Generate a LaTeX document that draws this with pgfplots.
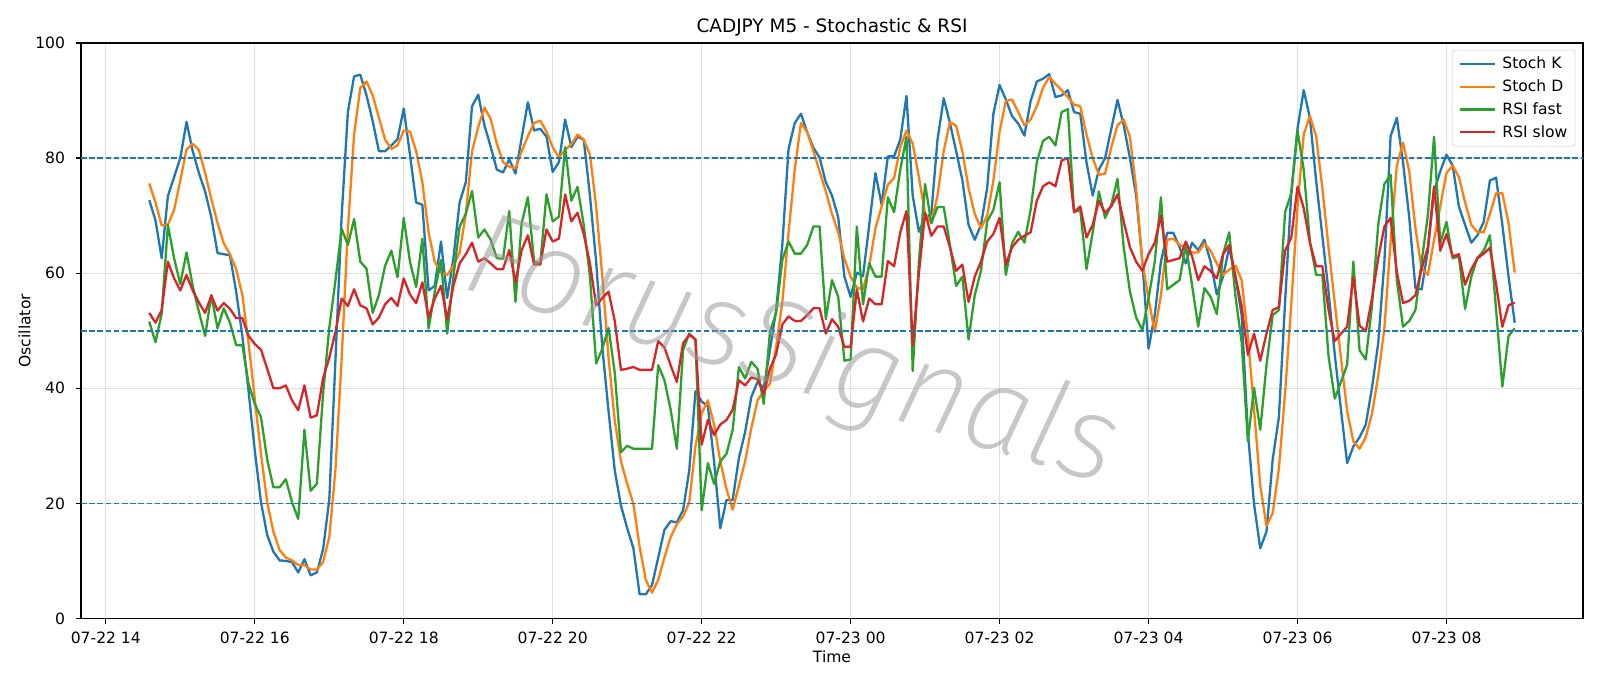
\documentclass[border=0pt]{standalone}
\usepackage{fontspec}
\setmainfont{DejaVu Sans}
\IfFontExistsTF{Fira Sans ExtraLight Italic}{%
  \newfontfamily\wmfont{Fira Sans ExtraLight Italic}\def\wmsize{86}}{%
  \IfFontExistsTF{Fira Sans Light Italic}{%
    \newfontfamily\wmfont{Fira Sans Light Italic}\def\wmsize{86}}{%
    \newfontfamily\wmfont{DejaVu Sans Oblique}\def\wmsize{76}}}
\usepackage{pgfplots}
\usepackage{pgfplotstable}
\pgfplotsset{compat=1.18}
\definecolor{c0}{HTML}{1F77B4}
\definecolor{c1}{HTML}{FF7F0E}
\definecolor{c2}{HTML}{2CA02C}
\definecolor{c3}{HTML}{D62728}
\pgfplotstableread{
i k d f s
0 72.7 75.6 51.6 53.1
1 69.2 72.3 48.0 51.4
2 62.6 68.3 53.0 53.6
3 73.4 68.4 68.4 62.0
4 76.7 71.0 62.6 59.1
5 80.0 76.1 58.1 57.0
6 86.3 81.5 63.6 59.7
7 81.2 82.5 57.8 57.0
8 77.4 81.4 53.3 54.9
9 74.2 77.4 49.1 53.1
10 69.7 72.9 56.2 56.1
11 63.5 68.7 50.4 53.5
12 63.3 65.2 53.9 54.8
13 63.1 63.3 51.4 53.8
14 56.8 60.7 47.5 52.2
15 49.1 56.2 47.5 52.2
16 39.5 47.8 40.8 49.1
17 29.2 38.2 37.3 47.7
18 20.2 28.6 35.0 46.7
19 14.5 20.2 27.6 43.4
20 11.6 15.1 22.8 40.0
21 10.1 11.9 22.8 40.0
22 10.0 10.6 24.2 40.5
23 9.8 10.1 20.2 37.9
24 8.0 9.3 17.3 36.2
25 10.3 9.3 32.8 40.5
26 7.5 8.5 22.2 34.9
27 8.0 8.5 23.4 35.3
28 12.0 9.8 39.0 41.7
29 20.6 14.1 50.5 45.3
30 45.0 25.9 58.8 49.8
31 70.0 45.2 67.7 55.6
32 88.0 67.7 64.9 54.3
33 94.2 84.1 69.4 57.2
34 94.5 92.2 62.0 54.4
35 90.9 93.3 60.8 53.9
36 86.4 90.9 53.1 51.1
37 81.2 87.0 56.2 52.3
38 81.2 83.2 61.3 54.6
39 82.2 81.6 63.9 55.7
40 83.3 82.2 59.3 54.3
41 88.6 84.8 69.6 59.1
42 80.6 84.6 62.0 56.3
43 72.3 81.2 57.6 54.8
44 71.9 75.8 66.0 58.4
45 57.0 67.1 50.4 52.3
46 57.8 62.0 56.8 55.6
47 65.5 60.1 62.3 57.8
48 55.7 59.7 49.5 52.0
49 62.6 61.3 59.4 57.8
50 72.3 63.6 68.1 61.7
51 75.8 70.3 70.3 63.3
52 89.0 81.2 74.3 65.3
53 91.0 85.4 66.2 62.0
54 85.7 88.8 67.6 62.6
55 82.0 86.8 65.8 61.7
56 78.0 82.5 62.6 60.7
57 77.5 79.3 62.5 60.7
58 79.8 78.5 70.8 64.0
59 77.3 78.2 55.0 58.4
60 83.5 81.2 68.7 64.0
61 89.7 83.8 73.2 66.6
62 84.8 86.1 62.0 61.5
63 85.1 86.5 61.7 61.5
64 83.7 84.6 73.7 67.6
65 77.6 81.9 69.0 65.5
66 79.3 80.1 69.8 66.0
67 86.7 81.4 81.9 73.7
68 81.9 82.4 72.6 69.0
69 83.7 84.1 75.0 70.5
70 83.2 83.2 68.4 66.8
71 73.5 80.6 59.4 61.7
72 62.0 71.6 44.3 54.4
73 47.0 59.4 46.9 55.7
74 36.0 45.3 50.5 56.8
75 25.7 34.4 42.7 51.7
76 19.6 27.3 28.9 43.2
77 15.7 23.4 30.0 43.4
78 12.2 19.9 29.5 43.7
79 4.2 12.5 29.5 43.2
80 4.2 6.7 29.5 43.2
81 5.8 4.5 29.5 43.2
82 10.6 6.7 44.0 48.2
83 15.4 10.6 41.4 47.1
84 16.9 14.1 36.3 44.0
85 16.7 16.4 29.5 41.1
86 18.8 17.7 46.6 47.8
87 25.7 20.2 49.5 49.3
88 39.5 29.9 48.5 48.5
89 37.7 35.6 18.8 30.2
90 36.9 37.9 27.0 34.5
91 27.3 33.7 23.4 31.9
92 15.7 27.3 27.3 33.7
93 20.6 22.5 28.6 34.5
94 20.6 18.9 32.8 36.3
95 27.9 23.1 43.7 41.4
96 32.4 27.3 41.7 40.5
97 38.5 33.1 44.6 41.9
98 41.1 37.9 43.4 41.6
99 40.1 39.5 37.3 39.0
100 46.6 40.8 49.8 43.4
101 53.6 47.2 53.1 45.9
102 65.0 55.0 62.3 51.1
103 81.6 67.0 65.5 52.5
104 86.1 78.0 63.4 51.7
105 87.7 86.1 63.4 51.7
106 84.5 84.5 64.9 52.7
107 81.8 81.2 68.1 53.9
108 80.1 77.7 68.1 53.9
109 75.8 74.2 52.0 49.5
110 73.5 70.3 58.8 52.0
111 69.7 67.1 55.9 50.7
112 59.4 62.5 44.8 47.2
113 55.9 59.4 45.0 47.2
114 60.1 57.5 68.1 57.2
115 59.5 57.2 54.6 51.6
116 68.4 61.3 61.7 55.6
117 77.4 67.8 59.4 54.6
118 71.9 71.6 59.4 54.6
119 80.3 75.4 73.2 62.1
120 80.3 76.5 70.6 61.2
121 83.2 81.9 78.0 67.1
122 90.8 84.8 83.7 70.8
123 73.5 82.5 43.0 47.5
124 67.2 76.7 62.0 60.0
125 69.7 70.3 75.5 70.5
126 70.3 68.7 68.7 66.5
127 83.2 73.5 71.5 68.1
128 90.4 81.2 71.5 68.1
129 86.1 86.3 64.9 64.5
130 81.2 85.6 57.8 60.4
131 76.2 81.2 59.4 61.5
132 68.4 74.8 48.5 55.0
133 65.8 70.3 56.2 59.4
134 68.4 67.8 60.4 62.0
135 74.8 70.0 69.0 65.5
136 87.7 76.1 71.0 66.8
137 92.7 84.6 75.8 69.6
138 90.2 89.9 59.7 61.5
139 87.3 90.2 65.2 64.5
140 86.0 88.0 67.2 65.8
141 83.9 85.7 65.3 66.5
142 89.9 86.7 71.0 67.1
143 93.3 89.0 79.3 72.6
144 93.8 92.2 83.0 75.1
145 94.6 94.1 83.7 75.8
146 90.6 92.9 82.2 75.1
147 90.9 91.8 88.0 79.6
148 91.8 90.6 88.5 80.0
149 88.0 89.3 70.6 70.6
150 87.7 89.0 71.0 71.6
151 79.3 84.1 60.7 66.2
152 73.5 80.0 67.1 68.4
153 78.0 77.1 74.2 72.6
154 80.0 77.3 69.6 70.5
155 85.1 81.9 71.9 71.6
156 90.1 85.7 76.4 73.7
157 85.7 86.7 64.5 69.0
158 80.0 83.7 56.8 64.5
159 73.5 74.8 52.3 62.0
160 62.0 62.0 50.1 60.4
161 46.9 55.6 55.6 63.3
162 52.7 49.8 62.0 65.3
163 62.0 56.2 73.2 70.0
164 67.0 65.8 57.2 62.0
165 67.0 66.0 58.0 62.3
166 64.5 64.9 58.8 62.6
167 61.7 64.5 64.9 65.5
168 65.3 63.6 58.0 63.0
169 64.0 63.6 50.7 58.8
170 65.8 65.2 57.4 61.2
171 62.0 63.9 55.9 60.4
172 56.3 61.7 52.9 59.1
173 59.4 59.7 63.3 63.3
174 64.5 60.6 67.1 64.9
175 59.4 61.3 56.0 59.4
176 52.7 58.8 48.0 54.3
177 32.4 49.1 30.8 45.8
178 19.9 36.3 40.1 49.5
179 12.2 23.1 32.8 44.8
180 15.1 16.1 44.0 49.5
181 27.6 18.3 52.7 53.6
182 35.0 26.0 53.6 54.1
183 55.0 39.2 70.6 63.9
184 74.0 54.7 73.9 66.2
185 85.1 71.4 84.8 75.0
186 91.8 84.1 78.0 71.3
187 87.0 87.3 65.5 65.3
188 76.1 83.8 59.7 61.2
189 66.5 74.8 59.7 61.2
190 56.8 64.5 45.6 53.6
191 45.9 54.9 38.2 48.2
192 36.3 45.3 41.1 49.5
193 27.0 36.0 44.1 50.7
194 29.9 30.8 62.0 59.4
195 31.5 29.5 46.6 50.9
196 33.7 31.5 45.0 49.9
197 40.1 35.6 54.3 55.6
198 47.8 42.1 68.4 62.6
199 62.0 50.5 75.5 68.1
200 83.8 65.5 77.1 69.6
201 87.0 78.7 58.8 60.2
202 79.3 82.7 50.7 54.8
203 69.7 77.7 51.7 55.2
204 57.4 67.8 53.6 56.2
205 57.2 60.8 62.0 60.7
206 63.9 59.7 70.0 64.5
207 74.2 65.8 83.7 75.1
208 77.7 71.6 65.2 63.9
209 80.6 77.4 68.9 66.8
210 78.7 78.7 62.6 62.9
211 71.6 76.7 62.9 63.3
212 68.4 72.3 53.8 58.0
213 65.3 68.4 59.4 60.7
214 66.6 67.1 62.7 62.6
215 68.9 67.1 63.9 63.4
216 76.1 70.3 66.6 64.4
217 76.6 73.9 53.6 58.1
218 68.4 73.9 40.3 50.7
219 59.4 68.7 49.1 54.4
220 51.4 60.1 50.4 54.9
}\osc

\begin{document}
\begin{tikzpicture}
\path[use as bounding box] (-58.32pt,-48.67pt) rectangle (1093.68pt,445.32pt);
\begin{axis}[
  at={(0pt,0pt)}, anchor=south west,
  scale only axis, width=1081.44pt, height=414.36pt,
  xmin=13.666667, xmax=33.833333, ymin=0, ymax=100,
  xtick={14,16,...,32},
  xticklabels={07-22 14,07-22 16,07-22 18,07-22 20,07-22 22,07-23 00,07-23 02,07-23 04,07-23 06,07-23 08},
  ytick={0,20,...,100},
  tick align=outside, tick pos=left, major tick length=3.7pt,
  tick style={black, line width=0.89pt},
  axis line style={line width=0.89pt},
  grid=major, grid style={line width=0.89pt, color=black!12},
  ticklabel style={font=\fontsize{11.2}{13}\selectfont},
  /pgf/number format/assume math mode=true,
  xticklabel style={anchor=base, yshift=-14.6pt},
  yticklabel style={anchor=east, inner sep=0pt, xshift=-7.6pt},
  title={CADJPY M5 - Stochastic \& RSI},
  title style={font=\fontsize{13.3}{15}\selectfont, anchor=base, at={(axis description cs:0.5,1)}, yshift=1.6pt},
  xlabel={Time}, ylabel={Oscillator},
  label style={font=\fontsize{11.2}{13}\selectfont},
  xlabel style={at={(axis description cs:0.5,0)}, anchor=base, yshift=-31.8pt},
  ylabel style={at={(axis description cs:-0.0337,0.5)}, anchor=base},
  legend cell align=left,
  legend image code/.code={\draw[#1, line width=1.67pt] (0pt,0pt) -- (25pt,0pt);},
  legend style={at={(axis description cs:1,1)}, anchor=north east, xshift=-5.5pt, yshift=-5pt,
    draw=black!20, rounded corners=2pt, fill=white, fill opacity=0.8, text opacity=1,
    font=\fontsize{11.2}{13}\selectfont, inner xsep=5pt, inner ysep=4.3pt, row sep=5.2pt,
    column sep=4pt, nodes={inner sep=0.6pt}},
  every axis plot/.append style={line width=1.67pt, line join=round},
]
\addplot[c0] table[x expr=14.583333+\thisrow{i}/12, y=k] {\osc};
\addlegendentry{Stoch K}
\addplot[c1] table[x expr=14.583333+\thisrow{i}/12, y=d] {\osc};
\addlegendentry{Stoch D}
\addplot[c2] table[x expr=14.583333+\thisrow{i}/12, y=f] {\osc};
\addlegendentry{RSI fast}
\addplot[c3] table[x expr=14.583333+\thisrow{i}/12, y=s] {\osc};
\addlegendentry{RSI slow}
\addplot[c0, line width=1.11pt, dash pattern=on 4.1pt off 1.8pt, forget plot] coordinates {(13.666667,80) (33.833333,80)};
\addplot[c0, line width=1.11pt, dash pattern=on 4.1pt off 1.8pt, forget plot] coordinates {(13.666667,50) (33.833333,50)};
\addplot[c0, line width=1.11pt, dash pattern=on 4.1pt off 1.8pt, forget plot] coordinates {(13.666667,20) (33.833333,20)};
\node[rotate=-17, font=\wmfont\fontsize{\wmsize}{\wmsize}\selectfont, text=black!40, opacity=0.55] at (rel axis cs:0.473,0.458) {ForusSignals};
\end{axis}
\end{tikzpicture}
\end{document}
